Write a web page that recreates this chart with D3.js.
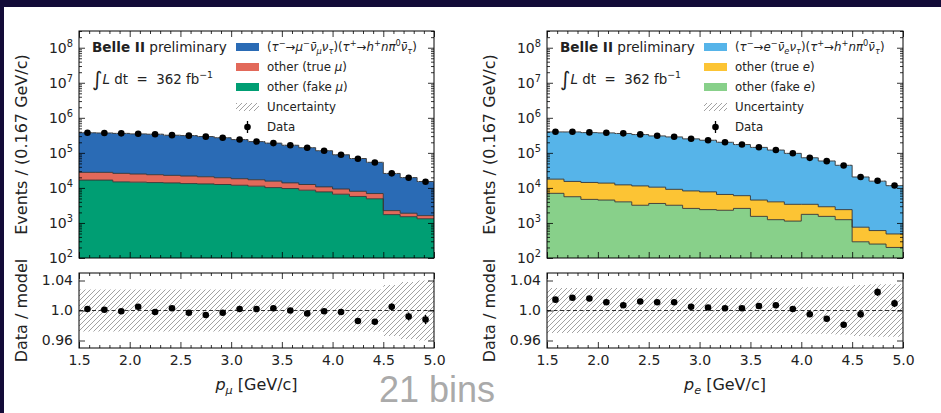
<!DOCTYPE html>
<html>
<head>
<meta charset="utf-8">
<script src="https://cdn.jsdelivr.net/npm/d3@7"></script>
<style>
  html, body { margin: 0; padding: 0; background: #fff; }
  svg { display: block; font-family: "DejaVu Sans", sans-serif; }
</style>
</head>
<body>
<svg id="chart" width="941" height="413"></svg>
<script>
// binning / ticks
const binLo = 1.5, binHi = 5.0, nBins = 21;
const xTicks = [1.5, 2.0, 2.5, 3.0, 3.5, 4.0, 4.5, 5.0];
const xTickLabels = ['1.5', '2.0', '2.5', '3.0', '3.5', '4.0', '4.5', '5.0'];
const yExponents = [2, 3, 4, 5, 6, 7, 8];
const ratioTicks = [0.96, 1.0, 1.04];
const ratioTickLabels = ['0.96', '1.0', '1.04'];

// muon channel
const sigMu = [347000, 342000, 334000, 323000, 317000, 296000, 289000, 271000, 251000, 221000, 192500, 174000, 151000, 128000, 104400, 78900, 61000, 46900, 23600, 17800, 13600];
const trueMu = [11100, 11100, 11100, 10300, 9600, 8900, 8500, 7800, 7000, 6400, 5900, 5400, 4300, 3900, 3000, 2700, 2300, 2000, 520, 380, 300];
const fakeMu = [16700, 16700, 14900, 14600, 14200, 13900, 13300, 13000, 12500, 11900, 11200, 10200, 9600, 8600, 7700, 6600, 5700, 4900, 1730, 1510, 1320];
const dataMu = [376000, 370000, 360000, 350000, 340000, 320000, 310000, 290000, 270000, 240000, 210000, 190000, 165000, 140000, 115000, 88000, 68000, 53000, 26000, 19500, 15000];
const ratioMu = [1.002, 1.001, 0.999, 1.005, 0.998, 1.003, 0.997, 0.994, 0.997, 1.002, 1.002, 1.003, 1.0, 0.996, 0.999, 0.998, 0.986, 0.985, 1.005, 0.992, 0.988];
const ratioErrMu = [0.0012, 0.0012, 0.0012, 0.0013, 0.0013, 0.0013, 0.0014, 0.0014, 0.0015, 0.0016, 0.0017, 0.0018, 0.0019, 0.002, 0.0022, 0.0025, 0.0028, 0.0032, 0.0045, 0.0052, 0.006];
const uncMu = [0.028, 0.028, 0.028, 0.028, 0.028, 0.028, 0.028, 0.028, 0.028, 0.028, 0.028, 0.028, 0.028, 0.028, 0.028, 0.028, 0.028, 0.028, 0.034, 0.038, 0.040];

// electron channel
const sigE = [378000, 380000, 364000, 358000, 345000, 321000, 294000, 276000, 242500, 221400, 194000, 166500, 138600, 116200, 93400, 69000, 55750, 41800, 19750, 15000, 11100];
const trueE = [10800, 9700, 9600, 9200, 8200, 8200, 6900, 5900, 5600, 5300, 4200, 3400, 2960, 2760, 2270, 1640, 1360, 1160, 467, 356, 285];
const fakeE = [7000, 5600, 4700, 4500, 4000, 3200, 3600, 3200, 2600, 2400, 2300, 2600, 1540, 1240, 1130, 1760, 1540, 1240, 290, 250, 200];
const dataE = [402000, 402000, 384000, 376000, 360000, 336000, 308000, 288000, 252000, 230000, 201000, 173000, 144000, 121000, 97000, 72000, 58000, 43400, 20400, 16000, 11700];
const ratioE = [1.0145, 1.017, 1.016, 1.011, 1.007, 1.012, 1.011, 1.011, 1.005, 1.004, 1.003, 1.003, 1.006, 1.007, 1.002, 0.995, 0.989, 0.981, 0.995, 1.0245, 1.0095];
const ratioErrE = [0.0012, 0.0012, 0.0012, 0.0013, 0.0013, 0.0013, 0.0014, 0.0014, 0.0015, 0.0016, 0.0017, 0.0018, 0.0019, 0.002, 0.0022, 0.0025, 0.0028, 0.0032, 0.0045, 0.005, 0.005];
const uncE = [0.030, 0.030, 0.030, 0.030, 0.030, 0.030, 0.030, 0.030, 0.030, 0.030, 0.030, 0.030, 0.030, 0.030, 0.030, 0.031, 0.031, 0.032, 0.034, 0.035, 0.035];

const svg = d3.select('#chart');
const W = 941, H = 413;
const mainTop = 31, mainBottom = 258, ratioTop = 273, ratioBottom = 348;
const yMax = 3e8;

const edges = d3.range(nBins + 1).map(i => binLo + i * (binHi - binLo) / nBins);
const centers = edges.slice(0, -1).map((e, i) => (e + edges[i + 1]) / 2);
const xMinor = d3.range(15, 51).map(v => v / 10).filter(v => !xTicks.includes(v));
const yMinor = [];
yExponents.forEach(k => { for (let m = 2; m < 10; m++) yMinor.push(m * Math.pow(10, k)); });
const yMinorIn = yMinor.filter(v => v <= yMax);

// hatch for uncertainty
const defs = svg.append('defs');
defs.append('pattern')
  .attr('id', 'hatch')
  .attr('patternUnits', 'userSpaceOnUse')
  .attr('width', 5).attr('height', 5)
  .append('path')
  .attr('d', 'M-1,1 l2,-2 M0,5 l5,-5 M4,6 l2,-2')
  .attr('stroke', '#8a8a8a')
  .attr('stroke-width', 0.8);

// slide frame
svg.append('rect').attr('width', W).attr('height', H).attr('fill', '#fff');
svg.append('rect').attr('width', W).attr('height', 7).attr('fill', '#130b38');
svg.append('rect').attr('width', 4).attr('height', H).attr('fill', '#130b38');

// text with sub/superscripts; parts = [text, flags]
function rich(sel, parts, fs) {
  let shift = 0;
  parts.forEach(p => {
    const flags = p[1] || '';
    let want = 0;
    if (flags.includes('^')) want = -fs * 0.42;
    if (flags.includes('_')) want = fs * 0.22;
    const t = sel.append('tspan').text(p[0]);
    if (want !== shift) t.attr('dy', want - shift);
    shift = want;
    if (flags.includes('^') || flags.includes('_')) t.attr('font-size', fs * 0.7);
    if (flags.includes('i')) t.attr('font-style', 'italic');
    if (flags.includes('b')) t.attr('font-weight', 'bold');
  });
  return sel;
}

function styleAxis(g) {
  g.select('.domain').remove();
  g.selectAll('.tick line').attr('stroke', '#000').attr('stroke-width', 0.8);
  g.selectAll('.tick text').attr('fill', '#222').attr('font-size', 14).attr('font-family', 'DejaVu Sans');
}

function drawPanel(p) {
  const x = d3.scaleLinear().domain([binLo, binHi]).range([p.x0, p.x1]);
  const y = d3.scaleLog().domain([1e2, yMax]).range([mainBottom, mainTop]);
  const yr = d3.scaleLinear().domain([0.95, 1.05]).range([ratioBottom, ratioTop]);
  const g = svg.append('g');

  defs.append('clipPath').attr('id', 'clipM' + p.id)
    .append('rect').attr('x', p.x0).attr('y', mainTop).attr('width', p.x1 - p.x0).attr('height', mainBottom - mainTop);
  defs.append('clipPath').attr('id', 'clipR' + p.id)
    .append('rect').attr('x', p.x0).attr('y', ratioTop).attr('width', p.x1 - p.x0).attr('height', ratioBottom - ratioTop);

  // stacked histogram
  const rows = p.sig.map((s, i) => ({ fake: p.fake[i], tru: p.tru[i], sig: s }));
  const layers = d3.stack().keys(['fake', 'tru', 'sig'])(rows);
  const colors = { fake: p.cFake, tru: p.cTrue, sig: p.cSig };
  const gm = g.append('g').attr('clip-path', `url(#clipM${p.id})`);
  const stepPts = layer => edges.map((e, i) => {
    const d = layer[Math.min(i, nBins - 1)];
    return { x: e, lo: Math.max(d[0], 100), hi: d[1] };
  });
  const area = d3.area().x(d => x(d.x)).y0(d => y(d.lo)).y1(d => y(d.hi)).curve(d3.curveStepAfter);
  const line = d3.line().x(d => x(d.x)).y(d => y(d.hi)).curve(d3.curveStepAfter);
  layers.forEach(layer => {
    gm.append('path').datum(stepPts(layer)).attr('fill', colors[layer.key]).attr('d', area);
  });
  layers.forEach(layer => {
    gm.append('path').datum(stepPts(layer)).attr('fill', 'none')
      .attr('stroke', '#333').attr('stroke-width', 0.9).attr('d', line);
  });
  // uncertainty band on total
  const tot = layers[2];
  const band = edges.map((e, i) => {
    const k = Math.min(i, nBins - 1);
    return { x: e, lo: tot[k][1] * (1 - p.unc[k]), hi: tot[k][1] * (1 + p.unc[k]) };
  });
  gm.append('path').datum(band).attr('fill', 'url(#hatch)').attr('d', area);

  // data points
  gm.selectAll('circle.d').data(p.data).join('circle')
    .attr('cx', (d, i) => x(centers[i])).attr('cy', d => y(d)).attr('r', 3.3).attr('fill', '#000');

  // main axes (ticks inward on all sides)
  g.append('g').attr('transform', `translate(0,${mainBottom})`)
    .call(d3.axisBottom(x).tickValues(xTicks).tickSize(-6).tickFormat('')).call(styleAxis);
  g.append('g').attr('transform', `translate(0,${mainBottom})`)
    .call(d3.axisBottom(x).tickValues(xMinor).tickSize(-3).tickFormat('')).call(styleAxis);
  g.append('g').attr('transform', `translate(0,${mainTop})`)
    .call(d3.axisTop(x).tickValues(xTicks).tickSize(-6).tickFormat('')).call(styleAxis);
  g.append('g').attr('transform', `translate(0,${mainTop})`)
    .call(d3.axisTop(x).tickValues(xMinor).tickSize(-3).tickFormat('')).call(styleAxis);
  const yMaj = yExponents.map(k => Math.pow(10, k));
  g.append('g').attr('transform', `translate(${p.x0},0)`)
    .call(d3.axisLeft(y).tickValues(yMaj).tickSize(-6).tickFormat('')).call(styleAxis);
  g.append('g').attr('transform', `translate(${p.x0},0)`)
    .call(d3.axisLeft(y).tickValues(yMinorIn).tickSize(-3).tickFormat('')).call(styleAxis);
  g.append('g').attr('transform', `translate(${p.x1},0)`)
    .call(d3.axisRight(y).tickValues(yMaj).tickSize(-6).tickFormat('')).call(styleAxis);
  g.append('g').attr('transform', `translate(${p.x1},0)`)
    .call(d3.axisRight(y).tickValues(yMinorIn).tickSize(-3).tickFormat('')).call(styleAxis);
  yExponents.forEach(k => {
    const t = g.append('text').attr('x', p.x0 - 6).attr('y', y(Math.pow(10, k)) + 5)
      .attr('text-anchor', 'end').attr('fill', '#222').attr('font-size', 14);
    rich(t, [['10'], [String(k), '^']], 14);
  });
  g.append('rect').attr('x', p.x0).attr('y', mainTop).attr('width', p.x1 - p.x0).attr('height', mainBottom - mainTop)
    .attr('fill', 'none').attr('stroke', '#000').attr('stroke-width', 1);

  // ratio panel
  const gr = g.append('g').attr('clip-path', `url(#clipR${p.id})`);
  const rband = edges.map((e, i) => {
    const k = Math.min(i, nBins - 1);
    return { x: e, lo: 1 - p.unc[k], hi: 1 + p.unc[k] };
  });
  gr.append('path').datum(rband).attr('fill', 'url(#hatch)')
    .attr('d', d3.area().x(d => x(d.x)).y0(d => yr(d.lo)).y1(d => yr(d.hi)).curve(d3.curveStepAfter));
  gr.append('line').attr('x1', p.x0).attr('x2', p.x1).attr('y1', yr(1)).attr('y2', yr(1))
    .attr('stroke', '#000').attr('stroke-width', 0.8).attr('stroke-dasharray', '4,2.5');
  gr.selectAll('line.err').data(p.ratio).join('line').attr('class', 'err')
    .attr('x1', (d, i) => x(centers[i])).attr('x2', (d, i) => x(centers[i]))
    .attr('y1', (d, i) => yr(d - p.ratioErr[i])).attr('y2', (d, i) => yr(d + p.ratioErr[i]))
    .attr('stroke', '#000').attr('stroke-width', 1.3);
  gr.selectAll('circle.r').data(p.ratio).join('circle')
    .attr('cx', (d, i) => x(centers[i])).attr('cy', d => yr(d)).attr('r', 3.3).attr('fill', '#000');

  g.append('g').attr('transform', `translate(0,${ratioBottom})`)
    .call(d3.axisBottom(x).tickValues(xTicks).tickSize(-6).tickPadding(7)
      .tickFormat((d, i) => xTickLabels[i])).call(styleAxis);
  g.append('g').attr('transform', `translate(0,${ratioBottom})`)
    .call(d3.axisBottom(x).tickValues(xMinor).tickSize(-3).tickFormat('')).call(styleAxis);
  g.append('g').attr('transform', `translate(0,${ratioTop})`)
    .call(d3.axisTop(x).tickValues(xTicks).tickSize(-6).tickFormat('')).call(styleAxis);
  g.append('g').attr('transform', `translate(0,${ratioTop})`)
    .call(d3.axisTop(x).tickValues(xMinor).tickSize(-3).tickFormat('')).call(styleAxis);
  g.append('g').attr('transform', `translate(${p.x0},0)`)
    .call(d3.axisLeft(yr).tickValues(ratioTicks).tickSize(-6).tickPadding(6)
      .tickFormat((d, i) => ratioTickLabels[i])).call(styleAxis);
  g.append('g').attr('transform', `translate(${p.x1},0)`)
    .call(d3.axisRight(yr).tickValues(ratioTicks).tickSize(-6).tickFormat('')).call(styleAxis);
  g.append('rect').attr('x', p.x0).attr('y', ratioTop).attr('width', p.x1 - p.x0).attr('height', ratioBottom - ratioTop)
    .attr('fill', 'none').attr('stroke', '#000').attr('stroke-width', 1);

  // axis titles
  g.append('text').attr('transform', `translate(${p.x0 - 52},${(mainTop + mainBottom) / 2}) rotate(-90)`)
    .attr('text-anchor', 'middle').attr('fill', '#222').attr('font-size', 16)
    .text('Events / (0.167 GeV/c)');
  g.append('text').attr('transform', `translate(${p.x0 - 52},${(ratioTop + ratioBottom) / 2}) rotate(-90)`)
    .attr('text-anchor', 'middle').attr('fill', '#222').attr('font-size', 16)
    .text('Data / model');
  const xt = g.append('text').attr('x', (p.x0 + p.x1) / 2).attr('y', 390)
    .attr('text-anchor', 'middle').attr('fill', '#222').attr('font-size', 16);
  rich(xt, [['p', 'i'], [p.lep, '_i'], [' [GeV/c]']], 16);

  // labels in plot
  const bt = g.append('text').attr('x', p.x0 + 13).attr('y', 52).attr('fill', '#222').attr('font-size', 13.6);
  rich(bt, [['Belle II', 'b'], [' preliminary']], 13.6);
  const lt = g.append('text').attr('x', p.x0 + 13).attr('y', 84).attr('fill', '#222').attr('font-size', 13.4)
    .attr('xml:space', 'preserve');
  lt.append('tspan').attr('font-size', 20).attr('dy', 2).text('\u222B');
  lt.append('tspan').attr('font-style', 'italic').attr('dy', -2).text('L');
  rich(lt, [[' dt  =  362 fb'], ['\u22121', '^']], 13.4);

  // legend
  const lx = p.x0 + 157, rowY = [47, 67, 87, 107, 127], lfs = 11.8;
  const entries = [
    { fill: p.cSig, parts: p.sigLabel },
    { fill: p.cTrue, parts: [['other (true '], [p.lep, 'i'], [')']] },
    { fill: p.cFake, parts: [['other (fake '], [p.lep, 'i'], [')']] },
    { fill: 'url(#hatch)', parts: [['Uncertainty']] },
    { fill: null, parts: [['Data']] }
  ];
  entries.forEach((e, i) => {
    const cy = rowY[i];
    if (e.fill) {
      g.append('rect').attr('x', lx).attr('y', cy - 4).attr('width', 23).attr('height', 8).attr('fill', e.fill);
    } else {
      g.append('line').attr('x1', lx + 11.5).attr('x2', lx + 11.5).attr('y1', cy - 6).attr('y2', cy + 6)
        .attr('stroke', '#000').attr('stroke-width', 1.3);
      g.append('circle').attr('cx', lx + 11.5).attr('cy', cy).attr('r', 3.3).attr('fill', '#000');
    }
    const t = g.append('text').attr('x', lx + 31).attr('y', cy + 4).attr('fill', '#222').attr('font-size', lfs);
    rich(t, e.parts, lfs);
  });
}

const bar = '\u0304';
drawPanel({
  id: 'mu', x0: 79, x1: 434, lep: '\u03BC',
  sig: sigMu, tru: trueMu, fake: fakeMu, data: dataMu, ratio: ratioMu, ratioErr: ratioErrMu, unc: uncMu,
  cSig: '#2a6bb5', cTrue: '#e2695a', cFake: '#009e73',
  sigLabel: [['('], ['\u03C4', 'i'], ['\u2212', '^'], ['\u2192'], ['\u03BC', 'i'], ['\u2212', '^'], ['\u03BD' + bar, 'i'], ['\u03BC', '_i'],
    ['\u03BD', 'i'], ['\u03C4', '_i'], [')('], ['\u03C4', 'i'], ['+', '^'], ['\u2192'], ['h', 'i'], ['+', '^'],
    ['n\u03C0', 'i'], ['0', '^'], ['\u03BD' + bar, 'i'], ['\u03C4', '_i'], [')']]
});
drawPanel({
  id: 'e', x0: 547, x1: 903, lep: 'e',
  sig: sigE, tru: trueE, fake: fakeE, data: dataE, ratio: ratioE, ratioErr: ratioErrE, unc: uncE,
  cSig: '#56b4e9', cTrue: '#fcc434', cFake: '#88d08a',
  sigLabel: [['('], ['\u03C4', 'i'], ['\u2212', '^'], ['\u2192'], ['e', 'i'], ['\u2212', '^'], ['\u03BD' + bar, 'i'], ['e', '_i'],
    ['\u03BD', 'i'], ['\u03C4', '_i'], [')('], ['\u03C4', 'i'], ['+', '^'], ['\u2192'], ['h', 'i'], ['+', '^'],
    ['n\u03C0', 'i'], ['0', '^'], ['\u03BD' + bar, 'i'], ['\u03C4', '_i'], [')']]
});

// slide annotation
svg.append('text').attr('x', 437).attr('y', 402).attr('text-anchor', 'middle')
  .attr('font-family', 'Liberation Sans, Arial, sans-serif').attr('font-size', 36).attr('fill', '#aaaaaa')
  .text('21 bins');
</script>
</body>
</html>
